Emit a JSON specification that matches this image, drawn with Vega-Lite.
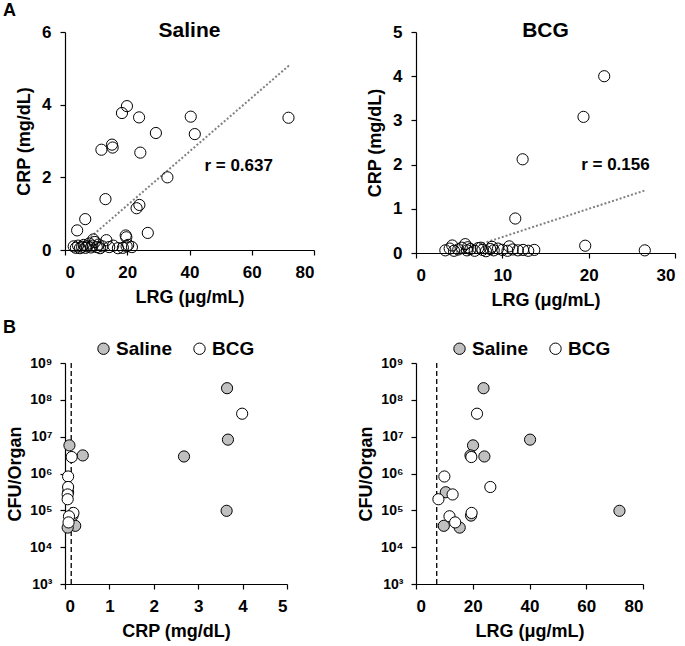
{
  "$schema": "https://vega.github.io/schema/vega-lite/v6.json",
  "padding": {"left": 3, "top": 2, "right": 3, "bottom": 3},
  "background": "white",
  "title": {"text": "A", "anchor": "start", "frame": "bounds", "fontSize": 18, "font": "Liberation Sans", "fontWeight": "bold", "color": "black", "dx": 0, "offset": 0},
  "config": {
    "font": "Liberation Sans",
    "view": {"stroke": null},
    "axis": {"grid": false, "labelOverlap": false, "domainColor": "black", "tickColor": "black", "labelColor": "black", "titleColor": "black", "labelFont": "Liberation Sans", "titleFont": "Liberation Sans", "labelFontSize": 17, "labelFontWeight": "bold", "titleFontSize": 18, "titleFontWeight": "bold", "tickSize": 5, "domainWidth": 1.2, "tickWidth": 1.2},
    "axisY": {"titlePadding": 8, "labelPadding": 9},
    "axisX": {"titlePadding": 8, "labelPadding": 9},
    "title": {"font": "Liberation Sans", "fontSize": 21, "fontWeight": "bold", "color": "black"},
    "legend": {"labelFont": "Liberation Sans", "labelFontSize": 19, "labelFontWeight": "bold", "labelColor": "black"}
  },
  "datasets": {
    "crpSaline": [
      {"lrg": 19.9, "crp": 3.96}, {"lrg": 18.3, "crp": 3.77}, {"lrg": 23.8, "crp": 3.65}, {"lrg": 40.4, "crp": 3.67}, {"lrg": 71.8, "crp": 3.64},
      {"lrg": 29.2, "crp": 3.22}, {"lrg": 41.7, "crp": 3.19}, {"lrg": 15.1, "crp": 2.90}, {"lrg": 15.3, "crp": 2.82}, {"lrg": 11.7, "crp": 2.76},
      {"lrg": 24.2, "crp": 2.68}, {"lrg": 32.9, "crp": 2.00}, {"lrg": 13.0, "crp": 1.40}, {"lrg": 23.9, "crp": 1.24}, {"lrg": 23.0, "crp": 1.15},
      {"lrg": 6.5, "crp": 0.85}, {"lrg": 3.9, "crp": 0.54}, {"lrg": 26.6, "crp": 0.47}, {"lrg": 19.5, "crp": 0.40}, {"lrg": 19.7, "crp": 0.35},
      {"lrg": 2.8, "crp": 0.10}, {"lrg": 3.5, "crp": 0.06}, {"lrg": 4.2, "crp": 0.12}, {"lrg": 4.8, "crp": 0.05}, {"lrg": 5.5, "crp": 0.09},
      {"lrg": 6.0, "crp": 0.14}, {"lrg": 6.6, "crp": 0.06}, {"lrg": 7.2, "crp": 0.10}, {"lrg": 7.8, "crp": 0.18}, {"lrg": 8.3, "crp": 0.07},
      {"lrg": 8.8, "crp": 0.12}, {"lrg": 9.1, "crp": 0.29}, {"lrg": 9.6, "crp": 0.22}, {"lrg": 10.2, "crp": 0.08}, {"lrg": 10.8, "crp": 0.15},
      {"lrg": 11.3, "crp": 0.05}, {"lrg": 12.0, "crp": 0.10}, {"lrg": 13.3, "crp": 0.27}, {"lrg": 14.2, "crp": 0.08}, {"lrg": 15.5, "crp": 0.12},
      {"lrg": 17.0, "crp": 0.05}, {"lrg": 18.6, "crp": 0.06}, {"lrg": 19.8, "crp": 0.10}, {"lrg": 20.3, "crp": 0.14}, {"lrg": 21.5, "crp": 0.08}
    ],
    "crpBCG": [
      {"lrg": 21.8, "crp": 4.0}, {"lrg": 19.4, "crp": 3.08}, {"lrg": 12.35, "crp": 2.12}, {"lrg": 11.5, "crp": 0.78}, {"lrg": 19.6, "crp": 0.165},
      {"lrg": 26.5, "crp": 0.06}, {"lrg": 4.2, "crp": 0.17}, {"lrg": 5.7, "crp": 0.20},
      {"lrg": 3.4, "crp": 0.06}, {"lrg": 3.9, "crp": 0.10}, {"lrg": 4.4, "crp": 0.05}, {"lrg": 4.9, "crp": 0.08}, {"lrg": 5.3, "crp": 0.12},
      {"lrg": 5.9, "crp": 0.06}, {"lrg": 6.3, "crp": 0.09}, {"lrg": 6.8, "crp": 0.05}, {"lrg": 7.2, "crp": 0.11}, {"lrg": 7.7, "crp": 0.07},
      {"lrg": 8.1, "crp": 0.04}, {"lrg": 8.6, "crp": 0.09}, {"lrg": 9.0, "crp": 0.06}, {"lrg": 9.5, "crp": 0.10}, {"lrg": 10.0, "crp": 0.07},
      {"lrg": 10.6, "crp": 0.05}, {"lrg": 10.8, "crp": 0.15}, {"lrg": 11.2, "crp": 0.08}, {"lrg": 11.8, "crp": 0.06}, {"lrg": 12.4, "crp": 0.07},
      {"lrg": 13.0, "crp": 0.05}, {"lrg": 13.7, "crp": 0.07}, {"lrg": 6.0, "crp": 0.13}, {"lrg": 7.5, "crp": 0.12}, {"lrg": 8.8, "crp": 0.14}
    ],
    "trendSaline": [{"lrg": 3.4, "crp": 0}, {"lrg": 72, "crp": 5.08}],
    "trendBCG": [{"lrg": 4.65, "crp": 0.02}, {"lrg": 26.6, "crp": 1.42}],
    "cfu": [
      {"group": "Saline", "crp": 3.65, "lrg": 23.8, "cfu": 207000000},
      {"group": "Saline", "crp": 3.67, "lrg": 40.2, "cfu": 8300000},
      {"group": "Saline", "crp": 0.10, "lrg": 20.1, "cfu": 5800000},
      {"group": "Saline", "crp": 0.40, "lrg": 19.2, "cfu": 3100000},
      {"group": "Saline", "crp": 2.68, "lrg": 24.1, "cfu": 2900000},
      {"group": "Saline", "crp": 0.07, "lrg": 10.5, "cfu": 310000},
      {"group": "Saline", "crp": 3.64, "lrg": 71.7, "cfu": 97000},
      {"group": "Saline", "crp": 0.17, "lrg": 19.4, "cfu": 72000},
      {"group": "Saline", "crp": 0.23, "lrg": 9.8, "cfu": 38000},
      {"group": "Saline", "crp": 0.06, "lrg": 15.4, "cfu": 34000},
      {"group": "BCG", "crp": 3.99, "lrg": 21.5, "cfu": 42000000},
      {"group": "BCG", "crp": 0.15, "lrg": 19.5, "cfu": 2800000},
      {"group": "BCG", "crp": 0.07, "lrg": 10.0, "cfu": 830000},
      {"group": "BCG", "crp": 0.07, "lrg": 26.2, "cfu": 430000},
      {"group": "BCG", "crp": 0.06, "lrg": 12.9, "cfu": 270000},
      {"group": "BCG", "crp": 0.06, "lrg": 7.9, "cfu": 200000},
      {"group": "BCG", "crp": 0.19, "lrg": 19.6, "cfu": 85000},
      {"group": "BCG", "crp": 0.09, "lrg": 11.8, "cfu": 69000},
      {"group": "BCG", "crp": 0.08, "lrg": 13.8, "cfu": 47000}
    ],
    "cutCRP": [{"cut": 0.14}],
    "cutLRG": [{"cut": 7.3}]
  },
  "columns": 2,
  "bounds": "flush",
  "align": "all",
  "spacing": {"column": 92, "row": 110},
  "resolve": {"scale": {"x": "independent", "y": "independent", "color": "independent"}, "legend": {"color": "independent"}},
  "concat": [
    {
      "width": 249, "height": 218,
      "title": {"text": "Saline", "offset": -18},
      "layer": [
        {
          "data": {"name": "trendSaline"},
          "mark": {"type": "line", "color": "#808080", "strokeDash": [2, 2], "strokeWidth": 2},
          "encoding": {"x": {"field": "lrg", "type": "quantitative"}, "y": {"field": "crp", "type": "quantitative"}}
        },
        {
          "data": {"name": "crpSaline"},
          "mark": {"type": "point", "shape": "circle", "filled": false, "stroke": "black", "strokeWidth": 1, "fill": "white", "fillOpacity": 0, "size": 125, "opacity": 1},
          "encoding": {
            "x": {"field": "lrg", "type": "quantitative", "scale": {"domain": [0, 80], "nice": false}, "axis": {"values": [0, 20, 40, 60, 80], "title": "LRG (μg/mL)"}},
            "y": {"field": "crp", "type": "quantitative", "scale": {"domain": [0, 6], "nice": false}, "axis": {"values": [0, 1, 2, 3, 4, 5, 6], "title": "CRP (mg/dL)"}}
          }
        },
        {
          "data": {"values": [{"lrg": 55.8, "crp": 2.32, "label": "r = 0.637"}]},
          "mark": {"type": "text", "fontSize": 17, "fontWeight": "bold", "font": "Liberation Sans", "color": "black"},
          "encoding": {"x": {"field": "lrg", "type": "quantitative"}, "y": {"field": "crp", "type": "quantitative"}, "text": {"field": "label"}}
        }
      ]
    },
    {
      "width": 259, "height": 221,
      "title": {"text": "BCG", "offset": -18},
      "layer": [
        {
          "data": {"name": "trendBCG"},
          "mark": {"type": "line", "color": "#808080", "strokeDash": [2, 2], "strokeWidth": 2},
          "encoding": {"x": {"field": "lrg", "type": "quantitative"}, "y": {"field": "crp", "type": "quantitative"}}
        },
        {
          "data": {"name": "crpBCG"},
          "mark": {"type": "point", "shape": "circle", "filled": false, "stroke": "black", "strokeWidth": 1, "fill": "white", "fillOpacity": 0, "size": 125, "opacity": 1},
          "encoding": {
            "x": {"field": "lrg", "type": "quantitative", "scale": {"domain": [0, 30], "nice": false}, "axis": {"values": [0, 10, 20, 30], "title": "LRG (μg/mL)"}},
            "y": {"field": "crp", "type": "quantitative", "scale": {"domain": [0, 5], "nice": false}, "axis": {"values": [0, 1, 2, 3, 4, 5], "title": "CRP (mg/dL)"}}
          }
        },
        {
          "data": {"values": [{"lrg": 23.1, "crp": 1.98, "label": "r = 0.156"}]},
          "mark": {"type": "text", "fontSize": 17, "fontWeight": "bold", "font": "Liberation Sans", "color": "black"},
          "encoding": {"x": {"field": "lrg", "type": "quantitative"}, "y": {"field": "crp", "type": "quantitative"}, "text": {"field": "label"}}
        }
      ]
    },
    {
      "width": 222, "height": 221,
      "title": {"text": "B", "anchor": "start", "frame": "group", "fontSize": 18, "dx": -62, "offset": 2},
      "layer": [
        {
          "data": {"name": "cutCRP"},
          "mark": {"type": "rule", "color": "black", "strokeDash": [5, 3], "strokeWidth": 1.3},
          "encoding": {"x": {"field": "cut", "type": "quantitative"}}
        },
        {
          "data": {"name": "cfu"},
          "mark": {"type": "point", "shape": "circle", "filled": true, "stroke": "black", "strokeWidth": 1, "size": 125, "opacity": 1},
          "encoding": {
            "x": {"field": "crp", "type": "quantitative", "scale": {"domain": [0, 5], "nice": false}, "axis": {"values": [0, 1, 2, 3, 4, 5], "title": "CRP (mg/dL)"}},
            "y": {"field": "cfu", "type": "quantitative", "scale": {"type": "log", "domain": [1000, 1000000000], "nice": false}, "axis": {"values": [1000, 10000, 100000, 1000000, 10000000, 100000000, 1000000000], "title": "CFU/Organ", "labelFontSize": 14, "labelPadding": 8, "titlePadding": 5, "labelExpr": "datum.value >= 1e9 ? '10⁹' : datum.value >= 1e8 ? '10⁸' : datum.value >= 1e7 ? '10⁷' : datum.value >= 1e6 ? '10⁶' : datum.value >= 1e5 ? '10⁵' : datum.value >= 1e4 ? '10⁴' : '10³'"}},
            "color": {"field": "group", "type": "nominal", "scale": {"domain": ["Saline", "BCG"], "range": ["#c0c0c0", "#ffffff"]}, "legend": {"title": null, "orient": "none", "direction": "horizontal", "legendX": 29, "legendY": -24, "symbolType": "circle", "symbolSize": 130, "symbolStrokeColor": "black", "symbolStrokeWidth": 1, "labelOffset": 3, "columnPadding": 18, "padding": 0}}
          }
        }
      ]
    },
    {
      "width": 227, "height": 221,
      "layer": [
        {
          "data": {"name": "cutLRG"},
          "mark": {"type": "rule", "color": "black", "strokeDash": [5, 3], "strokeWidth": 1.3},
          "encoding": {"x": {"field": "cut", "type": "quantitative"}}
        },
        {
          "data": {"name": "cfu"},
          "mark": {"type": "point", "shape": "circle", "filled": true, "stroke": "black", "strokeWidth": 1, "size": 125, "opacity": 1},
          "encoding": {
            "x": {"field": "lrg", "type": "quantitative", "scale": {"domain": [0, 80], "nice": false}, "axis": {"values": [0, 20, 40, 60, 80], "title": "LRG (μg/mL)"}},
            "y": {"field": "cfu", "type": "quantitative", "scale": {"type": "log", "domain": [1000, 1000000000], "nice": false}, "axis": {"values": [1000, 10000, 100000, 1000000, 10000000, 100000000, 1000000000], "title": "CFU/Organ", "labelFontSize": 14, "labelPadding": 8, "titlePadding": 5, "labelExpr": "datum.value >= 1e9 ? '10⁹' : datum.value >= 1e8 ? '10⁸' : datum.value >= 1e7 ? '10⁷' : datum.value >= 1e6 ? '10⁶' : datum.value >= 1e5 ? '10⁵' : datum.value >= 1e4 ? '10⁴' : '10³'"}},
            "color": {"field": "group", "type": "nominal", "scale": {"domain": ["Saline", "BCG"], "range": ["#c0c0c0", "#ffffff"]}, "legend": {"title": null, "orient": "none", "direction": "horizontal", "legendX": 34, "legendY": -24, "symbolType": "circle", "symbolSize": 130, "symbolStrokeColor": "black", "symbolStrokeWidth": 1, "labelOffset": 3, "columnPadding": 18, "padding": 0}}
          }
        }
      ]
    }
  ]
}
